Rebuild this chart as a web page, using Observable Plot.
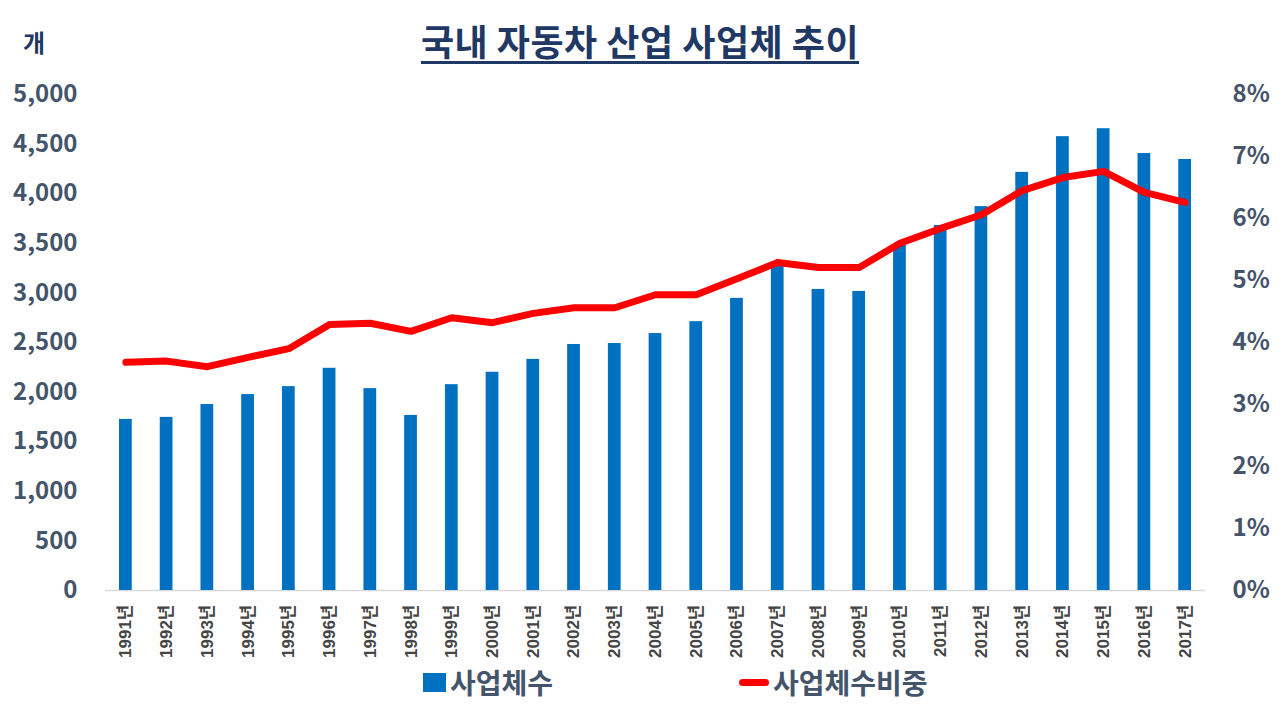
<!DOCTYPE html>
<html><head><meta charset="utf-8">
<script src="https://cdn.jsdelivr.net/npm/d3@7"></script>
<script src="https://cdn.jsdelivr.net/npm/@observablehq/plot@0.6"></script>
<style>
body{margin:0;background:#fff;font-family:"Noto Sans CJK KR",sans-serif;}
#wrap{position:relative;width:1280px;height:720px;overflow:hidden;background:#fff}
#wrap svg{position:absolute;left:0;top:0}
#title{position:absolute;left:0;width:1280px;top:22px;text-align:center;font-size:36px;line-height:1;font-weight:700;color:#1f3864;letter-spacing:0.5px}
#title span{text-decoration:underline;text-underline-offset:5px;text-decoration-thickness:3px}
#unit{position:absolute;left:23px;top:30px;font-size:24px;line-height:1;font-weight:700;color:#1f3864}
.leg{position:absolute;top:664px;font-size:28px;line-height:36px;font-weight:700;color:#44546a;display:flex;align-items:center}
.leg span{display:inline-block;margin-right:4px}
</style></head>
<body>
<div id="wrap">
  <div id="title"><span>국내 자동차 산업 사업체 추이</span></div>
  <div id="unit">개</div>
  <div id="c1"></div>
  <div id="c2"></div>
  <div class="leg" style="left:423px"><span style="width:23px;height:19px;background:#0070c0"></span>사업체수</div>
  <div class="leg" style="left:739px"><span style="width:30px;height:7px;background:#ff0000;border-radius:4px"></span>사업체수비중</div>
</div>
<script>
const years = ["1991년","1992년","1993년","1994년","1995년","1996년","1997년","1998년","1999년","2000년","2001년","2002년","2003년","2004년","2005년","2006년","2007년","2008년","2009년","2010년","2011년","2012년","2013년","2014년","2015년","2016년","2017년"];
const counts = [1725,1745,1875,1975,2055,2240,2035,1765,2075,2200,2330,2480,2490,2590,2710,2945,3275,3035,3015,3480,3680,3870,4215,4575,4655,4405,4345];
const shares = [3.68,3.70,3.61,3.76,3.90,4.29,4.31,4.18,4.40,4.32,4.47,4.56,4.56,4.77,4.77,5.03,5.29,5.21,5.21,5.60,5.84,6.06,6.45,6.66,6.76,6.42,6.26];
const leftTicks = [0,500,1000,1500,2000,2500,3000,3500,4000,4500,5000];
const rightTicks = [0,1,2,3,4,5,6,7,8];

const data = years.map((y,i)=>({year:y,count:counts[i],share:shares[i]}));

const common = {
  width:1280, height:720,
  marginTop:94, marginBottom:130, marginLeft:105, marginRight:75,
  style:{fontFamily:'"Noto Sans CJK KR",sans-serif', background:"transparent", overflow:"visible"}
};
const xopt = {type:"band", domain:years, padding:0, round:false, label:null};

const p1 = Plot.plot({
  ...common,
  x:{...xopt},
  y:{domain:[0,5000], label:null},
  marks:[
    Plot.ruleY([0],{stroke:"#d9d9d9", strokeWidth:1.5}),
    Plot.barY(data,{x:"year", y:"count", fill:"#0070c0", insetLeft:14, insetRight:14}),
    Plot.axisY(leftTicks,{tickSize:0, tickPadding:28, tickFormat:d3.format(","), fontSize:24, fontWeight:700, color:"#44546a", label:null}),
    Plot.axisX({tickSize:0, tickRotate:-90, tickPadding:14, fontSize:17, fontWeight:700, fontFamily:'"Liberation Sans","Noto Sans CJK KR",sans-serif', color:"#454545", label:null})
  ]
});
document.getElementById("c1").appendChild(p1);

const p2 = Plot.plot({
  ...common,
  x:{...xopt, axis:null},
  y:{domain:[0,8], label:null},
  marks:[
    Plot.line(data,{x:"year", y:"share", stroke:"#ff0000", strokeWidth:7, strokeLinejoin:"round", strokeLinecap:"round"}),
    Plot.axisY(rightTicks,{anchor:"right", tickSize:0, tickPadding:27, tickFormat:d=>d+"%", fontSize:24, fontWeight:700, color:"#44546a", label:null})
  ]
});
document.getElementById("c2").appendChild(p2);
</script>
</body></html>
